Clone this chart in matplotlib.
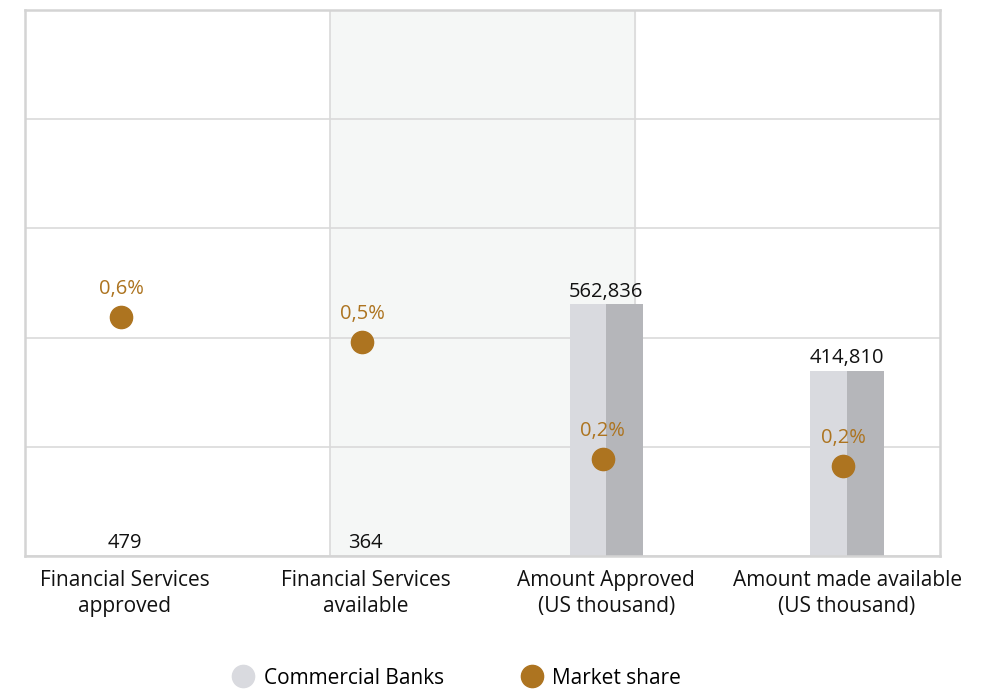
import numpy as np
import matplotlib.pyplot as plt
from matplotlib.lines import Line2D

plt.rcParams['font.family'] = ['Open Sans', 'DejaVu Sans']

# Données
categories = ['Financial Services\napproved', 'Financial Services\navailable',
              'Amount Approved\n(US thousand)', 'Amount made available\n(US thousand)']
banks = [479, 364, 562836, 414810]
share = [0.57, 0.51, 0.23, 0.215]   # market share en %

gold = '#ad7420'
light = '#d9dadf'
dark = '#b5b6ba'
grid = '#dadada'
fs = 15

fig = plt.figure(figsize=(9.87, 6.92), dpi=100)
ax = fig.add_axes([25/987, 1-556/692, 915/987, 546/692])

x = np.arange(len(categories))
w = 0.152   # demi-largeur de barre

xmin, xmax = -0.415, 3.386
ymax = 1221000
ax.set_xlim(xmin, xmax)
ax.set_ylim(0, ymax)

# Bande grisée et lignes verticales (1/3 et 2/3 de la largeur)
x1 = xmin + (xmax-xmin)/3
x2 = xmin + 2*(xmax-xmin)/3
ax.axvspan(x1, x2, color='#f5f7f6', zorder=0)
ax.axvline(x1, color=grid, lw=1.2, zorder=0.5)
ax.axvline(x2, color=grid, lw=1.2, zorder=0.5)

# Grille horizontale
ax.set_yticks(np.linspace(0, ymax, 6))
ax.yaxis.grid(True, color=grid, lw=1.2)
ax.set_axisbelow(True)

# Barres en deux tons
ax.bar(x - w/2, banks, width=w, color=light, zorder=2)
ax.bar(x + w/2, banks, width=w, color=dark, zorder=2)
for i in range(len(x)):
    ax.annotate(f'{banks[i]:,}', (x[i], banks[i]), xytext=(0, 2), textcoords='offset points',
                ha='center', va='bottom', fontsize=14.5, color='#111111', zorder=5)

ax.set_xticks(x)
ax.set_xticklabels(categories, fontsize=fs, color='#111111', linespacing=1.3)
ax.tick_params(axis='x', length=0, pad=10)

for s in ax.spines.values():
    s.set_color('#d4d4d4')
    s.set_linewidth(1.8)

# Part de marché (axe secondaire caché)
ax2 = ax.twinx()
ax2.set_ylim(0, 1.3)
ax2.axis('off')
ax.tick_params(axis='y', left=False, right=False, labelleft=False, length=0)
ax2.plot(x - 0.015, share, 'o', color=gold, markersize=16, ls='none', zorder=4)
for i in range(len(x)):
    lab = f'{share[i]:.1f}'.replace('.', ',') + '%'
    ax2.annotate(lab, (x[i] - 0.015, share[i]), xytext=(0, 13), textcoords='offset points',
                 ha='center', va='bottom', fontsize=14.5, color=gold)

# Légende
handles = [Line2D([], [], marker='o', ls='none', color=light, markersize=16),
           Line2D([], [], marker='o', ls='none', color=gold, markersize=16)]
fig.legend(handles, ['Commercial Banks', 'Market share'], loc='center',
           bbox_to_anchor=(0.462, 1-678/692), ncol=2, frameon=False, fontsize=fs,
           handletextpad=0.4, columnspacing=3.6, handlelength=1.2)

plt.savefig('out.png', dpi=100)
